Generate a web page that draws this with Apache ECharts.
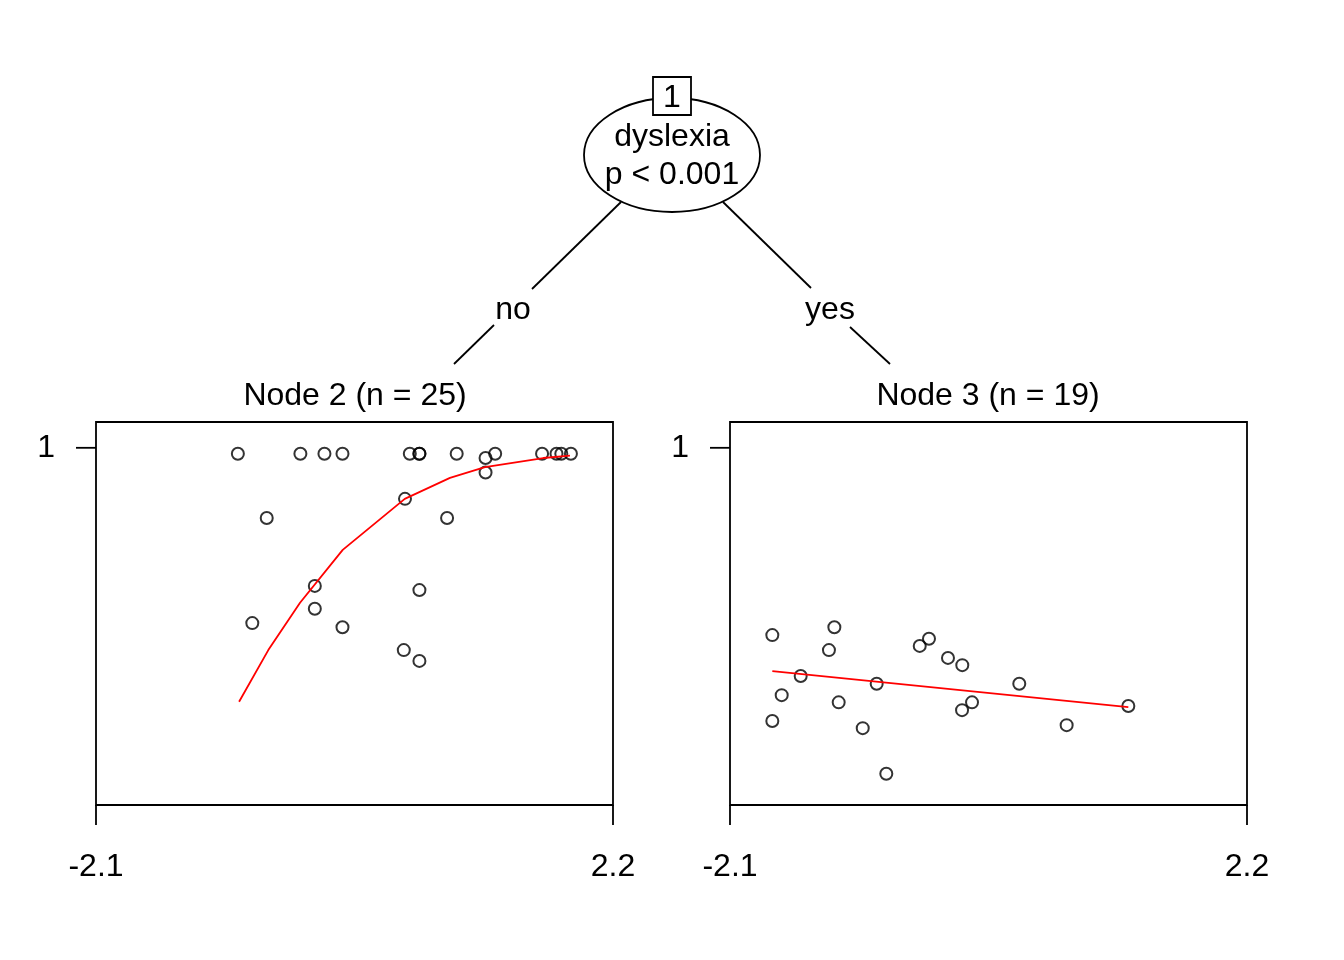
<!DOCTYPE html>
<html>
<head>
<meta charset="utf-8">
<script src="https://cdn.jsdelivr.net/npm/echarts@6/dist/echarts.min.js"></script>
<style>
html,body{margin:0;padding:0;background:#fff;}
#main{width:1344px;height:960px;}
</style>
</head>
<body>
<div id="main"></div>
<script>
// ---- data ----
var xTicks = [-2.1, 2.2];
var yTicks = [1];
var splitVar = "dyslexia";
var splitP = "p < 0.001";
var branchLabels = ["no", "yes"];
var nodeTitles = ["Node 2 (n = 25)", "Node 3 (n = 19)"];

var node2X = [-0.92, -0.40, -0.20, -0.05, 0.51, 0.59, 0.59, 0.90, 1.14, 1.22, 1.61, 1.73, 1.77, 1.85,
              1.14, 0.47, -0.68, 0.82, -0.28, 0.59, -0.28, -0.80, -0.05, 0.46, 0.59];
var node2Y = [0.99, 0.99, 0.99, 0.99, 0.99, 0.99, 0.99, 0.99, 0.983, 0.99, 0.99, 0.99, 0.99, 0.99,
              0.959, 0.915, 0.883, 0.883, 0.770, 0.763, 0.732, 0.708, 0.701, 0.663, 0.645];
var node2FitX = [-0.91, -0.667, -0.403, -0.048, 0.468, 0.844, 1.135, 1.62, 1.842];
var node2FitY = [0.577, 0.663, 0.742, 0.830, 0.915, 0.950, 0.968, 0.983, 0.987];

var node3X = [-1.748, -1.232, -1.277, -1.512, -1.670, -1.748, -1.196, -0.880, -0.996, -0.800,
              -0.522, -0.445, -0.287, -0.168, -0.087, -0.170, 0.306, 0.700, 1.213];
var node3Y = [0.688, 0.701, 0.663, 0.620, 0.588, 0.545, 0.576, 0.607, 0.533, 0.457,
              0.670, 0.682, 0.650, 0.638, 0.576, 0.563, 0.607, 0.538, 0.570];
var node3FitX = [-1.748, 1.213];
var node3FitY = [0.628, 0.568];

var yMin = 0.405, yMax = 1.043;

function pairs(xs, ys){ return xs.map(function(x,i){ return [x, ys[i]]; }); }

var FONT = '"Liberation Sans", Arial, Helvetica, sans-serif';
var LW = 1.8;
var chart = echarts.init(document.getElementById('main'), null, {renderer:'canvas'});

function mkX(idx){
  return {
    type:'value', gridIndex: idx, min: xTicks[0], max: xTicks[1],
    axisLine:{show:false},
    splitLine:{show:false},
    axisTick:{show:true, inside:false, length:20, lineStyle:{color:'#000', width:LW}, customValues: xTicks},
    axisLabel:{show:true, margin:46, color:'#000', fontSize:32, fontFamily:FONT, customValues: xTicks,
      formatter:function(v){ return String(Math.round(v*10)/10); }}
  };
}
function mkY(idx){
  return {
    type:'value', gridIndex: idx, min: yMin, max: yMax,
    axisLine:{show:false},
    splitLine:{show:false},
    axisTick:{show:false},
    axisLabel:{show:true, margin:41, color:'#000', fontSize:32, fontFamily:FONT, customValues: yTicks,
      padding:[4,0,0,0],
      formatter:function(v){ return String(Math.round(v*100)/100); }}
  };
}
// y-axis tick marks, placed through the axis scale
function yTickSeries(idx){
  return {
    type:'custom', xAxisIndex:idx, yAxisIndex:idx, silent:true, clip:false,
    data: yTicks.map(function(v){ return [xTicks[0], v]; }),
    renderItem:function(params, api){
      var p = api.coord([api.value(0), api.value(1)]);
      return {type:'line', shape:{x1:p[0]-20, y1:p[1], x2:p[0], y2:p[1]}, style:{stroke:'#000', lineWidth:LW}};
    }
  };
}
var scatterStyle = {color:'rgba(0,0,0,0)', borderColor:'#000', borderWidth:2};

var option = {
  backgroundColor:'#fff',
  animation:false,
  grid:[
    {left:96, top:422, width:517, height:383, show:true, borderColor:'#000', borderWidth:LW, backgroundColor:'transparent'},
    {left:730, top:422, width:517, height:383, show:true, borderColor:'#000', borderWidth:LW, backgroundColor:'transparent'}
  ],
  xAxis:[mkX(0), mkX(1)],
  yAxis:[mkY(0), mkY(1)],
  series:[
    {type:'scatter', xAxisIndex:0, yAxisIndex:0, data:pairs(node2X,node2Y), symbol:'circle', symbolSize:12, itemStyle:scatterStyle, silent:true},
    {type:'line', xAxisIndex:0, yAxisIndex:0, data:pairs(node2FitX,node2FitY), showSymbol:false, lineStyle:{color:'#ff0000', width:1.8}, silent:true},
    {type:'scatter', xAxisIndex:1, yAxisIndex:1, data:pairs(node3X,node3Y), symbol:'circle', symbolSize:12, itemStyle:scatterStyle, silent:true},
    {type:'line', xAxisIndex:1, yAxisIndex:1, data:pairs(node3FitX,node3FitY), showSymbol:false, lineStyle:{color:'#ff0000', width:1.8}, silent:true},
    yTickSeries(0),
    yTickSeries(1)
  ],
  graphic:[
    {type:'line', shape:{x1:621, y1:202, x2:532, y2:289}, style:{stroke:'#000', lineWidth:LW}},
    {type:'line', shape:{x1:494, y1:325, x2:454, y2:364}, style:{stroke:'#000', lineWidth:LW}},
    {type:'line', shape:{x1:723, y1:202, x2:811, y2:288}, style:{stroke:'#000', lineWidth:LW}},
    {type:'line', shape:{x1:850, y1:327, x2:890, y2:364}, style:{stroke:'#000', lineWidth:LW}},
    {type:'ellipse', shape:{cx:672, cy:155, rx:88, ry:57}, style:{fill:'#fff', stroke:'#000', lineWidth:LW}},
    {type:'rect', shape:{x:653, y:77, width:38, height:38}, style:{fill:'#fff', stroke:'#000', lineWidth:LW}},
    {type:'text', x:672, y:98, style:{text:'1', font:'32px '+FONT, fill:'#000', align:'center', verticalAlign:'middle'}},
    {type:'text', x:672, y:137, style:{text:splitVar, font:'32px '+FONT, fill:'#000', align:'center', verticalAlign:'middle'}},
    {type:'text', x:672, y:175, style:{text:splitP, font:'32px '+FONT, fill:'#000', align:'center', verticalAlign:'middle'}},
    {type:'text', x:513, y:310, style:{text:branchLabels[0], font:'32px '+FONT, fill:'#000', align:'center', verticalAlign:'middle'}},
    {type:'text', x:830, y:310, style:{text:branchLabels[1], font:'32px '+FONT, fill:'#000', align:'center', verticalAlign:'middle'}},
    {type:'text', x:355, y:396, style:{text:nodeTitles[0], font:'32px '+FONT, fill:'#000', align:'center', verticalAlign:'middle'}},
    {type:'text', x:988, y:396, style:{text:nodeTitles[1], font:'32px '+FONT, fill:'#000', align:'center', verticalAlign:'middle'}}
  ]
};
chart.setOption(option);
</script>
</body>
</html>
